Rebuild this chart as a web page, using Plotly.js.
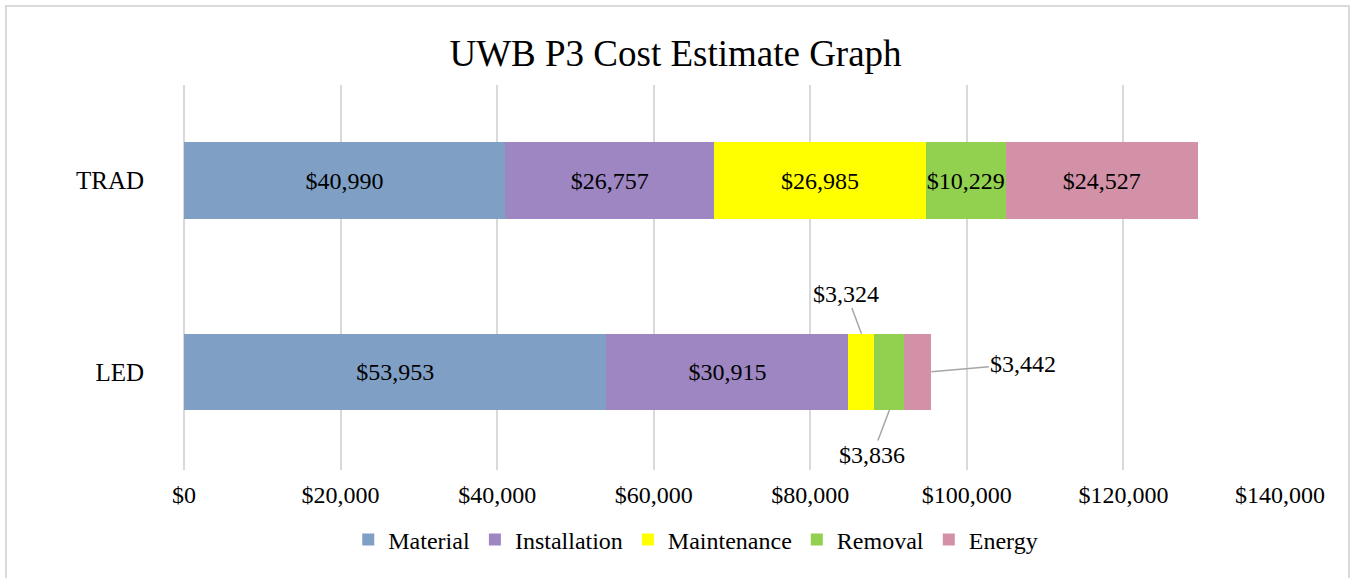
<!DOCTYPE html>
<html>
<head>
<meta charset="utf-8">
<script src="https://cdn.plot.ly/plotly-3.0.1.min.js"></script>
<style>
  html, body { margin: 0; padding: 0; background: #ffffff; }
  #chart { width: 1351px; height: 578px; }
  #frame { position: absolute; left: 5px; top: 5px; width: 1345px; height: 640px;
           box-sizing: border-box; border: 2px solid #dadada; pointer-events: none; }
</style>
</head>
<body>
<div id="chart"></div>
<div id="frame"></div>
<script>
// ---- data ----
const categories = ['LED', 'TRAD'];
const seriesNames = ['Material', 'Installation', 'Maintenance', 'Removal', 'Energy'];
const material     = [53953, 40990];
const installation = [30915, 26757];
const maintenance  = [3324, 26985];
const removal      = [3836, 10229];
const energy       = [3442, 24527];
const xTickValues  = [0, 20000, 40000, 60000, 80000, 100000, 120000, 140000];
const xTickLabels  = ['$0', '$20,000', '$40,000', '$60,000', '$80,000', '$100,000', '$120,000', '$140,000'];

const seriesValues = [material, installation, maintenance, removal, energy];
const colors = ['#7f9fc4', '#9e86c2', '#ffff00', '#92d050', '#d291a6'];
const FONT = '"Liberation Serif", "Times New Roman", serif';
const SMALL = 5000; // labels for segments below this are drawn outside with leader lines

function money(v) { return '$' + v.toLocaleString('en-US'); }

const traces = seriesValues.map((vals, i) => ({
  type: 'bar',
  orientation: 'h',
  name: seriesNames[i],
  y: categories,
  x: vals,
  text: vals.map(v => v < SMALL ? '' : money(v)),
  textposition: 'inside',
  insidetextanchor: 'middle',
  constraintext: 'none',
  textfont: { family: FONT, size: 24, color: '#000000' },
  marker: { color: colors[i], line: { width: 0 } },
  hoverinfo: 'skip'
}));

// outside labels with leader lines for small segments
const offsets = {
  2: { ax: -15, ay: -40, dy: 0.2 },   // top edge of bar
  3: { ax: -17, ay: 45, dy: -0.2 },   // bottom edge of bar
  4: { ax: 92, ay: -8, dy: 0, end: true } // right end of bar
};
const annotations = [];
categories.forEach((cat, ci) => {
  let cum = 0;
  seriesValues.forEach((vals, si) => {
    const v = vals[ci];
    const start = cum;
    cum += v;
    if (v < SMALL && offsets[si]) {
      const o = offsets[si];
      annotations.push({
        x: o.end ? cum : start + v / 2,
        y: ci + o.dy,
        xref: 'x', yref: 'y',
        text: money(v),
        showarrow: true,
        arrowhead: 0,
        arrowwidth: 1.5,
        arrowcolor: '#a6a6a6',
        standoff: 0,
        ax: o.ax, ay: o.ay,
        font: { family: FONT, size: 24, color: '#000000' }
      });
    }
  });
});

const layout = {
  width: 1351,
  height: 578,
  margin: { l: 184, r: 71, t: 85, b: 108 },
  paper_bgcolor: '#ffffff',
  plot_bgcolor: '#ffffff',
  barmode: 'stack',
  bargap: 0.6,
  font: { family: FONT, size: 24, color: '#000000' },
  title: {
    text: 'UWB P3 Cost Estimate Graph',
    font: { family: FONT, size: 37, color: '#000000' },
    x: 0.5, xref: 'container', xanchor: 'center',
    y: 1 - 53 / 578, yref: 'container', yanchor: 'middle'
  },
  xaxis: {
    range: [0, 140000],
    tickmode: 'array',
    tickvals: xTickValues,
    ticktext: xTickLabels,
    showgrid: true,
    gridcolor: '#d9d9d9',
    gridwidth: 2,
    zeroline: true,
    zerolinecolor: '#d9d9d9',
    zerolinewidth: 2,
    showline: false,
    ticks: 'outside',
    ticklen: 3,
    tickcolor: 'rgba(0,0,0,0)',
    tickfont: { family: FONT, size: 24, color: '#000000' },
    fixedrange: true
  },
  yaxis: {
    type: 'category',
    categoryorder: 'array',
    categoryarray: categories,
    showgrid: false,
    zeroline: false,
    showline: false,
    ticks: 'outside',
    ticklen: 34,
    tickcolor: 'rgba(0,0,0,0)',
    tickfont: { family: FONT, size: 25, color: '#000000' },
    fixedrange: true
  },
  legend: {
    orientation: 'h',
    x: 0.515, xref: 'container', xanchor: 'center',
    y: 1 - 540 / 578, yref: 'container', yanchor: 'middle',
    font: { family: FONT, size: 24, color: '#000000' },
    traceorder: 'normal',
    itemclick: false, itemdoubleclick: false
  },
  annotations: annotations,
  showlegend: true
};

Plotly.newPlot('chart', traces, layout, { displayModeBar: false, staticPlot: true });
</script>
</body>
</html>
